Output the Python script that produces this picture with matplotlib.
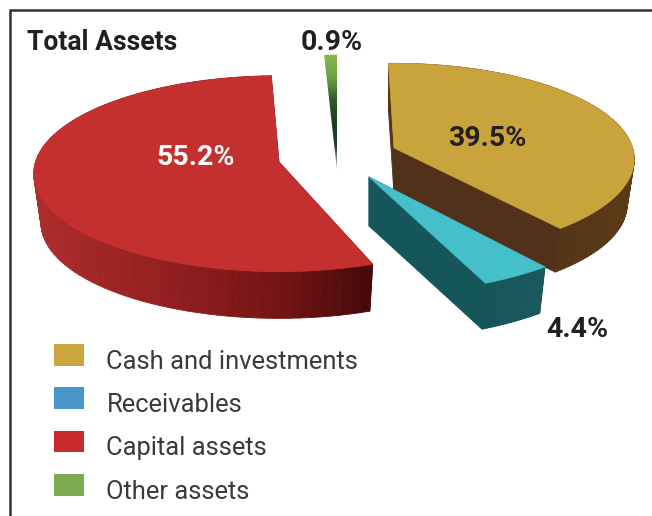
import numpy as np
import matplotlib
matplotlib.use('Agg')
import matplotlib.pyplot as plt
from matplotlib.collections import PolyCollection
from matplotlib.colors import LinearSegmentedColormap
from matplotlib.patches import Patch, Polygon

categories = ['Cash and investments', 'Receivables', 'Capital assets', 'Other assets']
shares = [39.5, 4.4, 55.2, 0.9]
share_labels = ['39.5%', '4.4%', '55.2%', '0.9%']
legend_colors = ['#cca63e', '#4a96c8', '#c62a2a', '#7dab52']

plt.rcParams['font.family'] = ['Roboto', 'DejaVu Sans']

# exploded position, size and look of each slice (drawing units are pixels)
apex_x = [394, 369, 279, 337]
apex_y = [148, 177, 162, 170]
scale = [0.97, 1.05, 0.99, 1.38]
depth = [46, 49, 50, 0]
# small angle nudges (degrees) at each end of a slice, the source is not a true pie
nudge_a = [1.5, 0, -2, -0.7]
nudge_b = [1.5, 1.5, -1.2, 0]
face_colors = ['#c9a33c', '#45bfc9', '#c42f2f', '#7fb24a']
wall_cmaps = [
    LinearSegmentedColormap.from_list('gold', ['#55341a', '#50301a', '#5b3a16']),
    LinearSegmentedColormap.from_list('teal', ['#14565a', '#16565a', '#1a5a5e']),
    LinearSegmentedColormap.from_list('red', ['#ad2c2c', '#9c2424', '#8a1c1c', '#721414', '#470a0a']),
    LinearSegmentedColormap.from_list('green', ['#1d3a1d', '#1d3a1d']),
]

RX = 246
RY = 97.5
PERSP = 0.121
SHRINK = 0.97


def project(angle, r):
    u = np.cos(angle) * r
    v = np.sin(angle) * r
    w = 1 + PERSP * v
    return RX * u / w, -RY * v / w


fig = plt.figure(figsize=(6.52, 5.16), dpi=100)
ax = fig.add_axes([0, 0, 1, 1])
ax.set_xlim(0, 652)
ax.set_ylim(516, 0)
ax.axis('off')

# frame, open on the right
ax.plot([9.5, 9.5, 652], [516, 9.5, 9.5], color='#333333', lw=1.8, solid_joinstyle='miter')

edges = 90 - np.cumsum([0] + shares) * 3.6
order = [2, 3, 0, 1]
for i in order:
    a0 = np.radians(edges[i] + nudge_a[i])
    a1 = np.radians(edges[i + 1] + nudge_b[i])
    t = np.linspace(a0, a1, 90)
    px, py = project(t, scale[i])
    x = apex_x[i] + px
    y = apex_y[i] + py
    top = np.column_stack([np.r_[apex_x[i], x], np.r_[apex_y[i], y]])

    if depth[i] > 0:
        low = top.copy()
        low[:, 0] = apex_x[i] + (top[:, 0] - apex_x[i]) * SHRINK
        low[:, 1] = apex_y[i] + (top[:, 1] - apex_y[i]) * SHRINK + depth[i]
        quads = []
        mids = []
        for k in range(len(top)):
            n = (k + 1) % len(top)
            quads.append([top[k], top[n], low[n], low[k]])
            mids.append((top[k, 0] + top[n, 0]) / 2)
        mids = np.array(mids)
        shade = (mids - mids.min()) / (mids.max() - mids.min())
        cols = wall_cmaps[i](shade)
        ax.add_collection(PolyCollection(quads, facecolors=cols, edgecolors=cols, linewidths=0.6, zorder=2 + order.index(i)))
        ax.add_patch(Polygon(top, closed=True, fc=face_colors[i], ec=face_colors[i], lw=0.5, zorder=2.5 + order.index(i)))
    else:
        # the thin slice fades into its dark side wall
        green = LinearSegmentedColormap.from_list('g', ['#86bb4c', '#6f9f42', '#2e5a2a', '#1c3d20', '#24402a', '#c8d2c8'])
        grad = np.linspace(0, 1, 200).reshape(-1, 1)
        im = ax.imshow(grad, cmap=green, aspect='auto', zorder=2 + order.index(i),
                       extent=[top[:, 0].min(), top[:, 0].max(), top[:, 1].max(), top[:, 1].min()])
        clip = Polygon(top, closed=True, transform=ax.transData)
        im.set_clip_path(clip)
        ax.set_xlim(0, 652)
        ax.set_ylim(516, 0)

ax.text(27, 50, 'Total Assets', fontsize=19.1, fontweight='bold', color='#231f20', va='baseline', zorder=9)
ax.text(332, 42, share_labels[3], fontsize=20.5, fontweight='bold', color='#231f20', ha='center', va='center', zorder=9)
ax.text(487, 138, share_labels[0], fontsize=20.5, fontweight='bold', color='#231f20', ha='center', va='center', zorder=9)
ax.text(196, 157.5, share_labels[2], fontsize=20.5, fontweight='bold', color='white', ha='center', va='center', zorder=9)
ax.text(577, 329.5, share_labels[1], fontsize=20.5, fontweight='bold', color='#231f20', ha='center', va='center', zorder=9)

handles = [Patch(fc=c, ec='none') for c in legend_colors]
leg = ax.legend(handles, categories, loc='upper left', bbox_to_anchor=(54, 344), bbox_transform=ax.transData,
                frameon=False, borderpad=0, borderaxespad=0, handlelength=1.16, handleheight=0.93,
                handletextpad=0.89, labelspacing=0.73, prop={'family': 'Roboto', 'weight': 'normal', 'size': 18.4},
                labelcolor='#3a3a3a')
# labels sit a little lower than the squares
for t in leg.get_texts():
    t.set_position((0, -5))

fig.savefig('out.png', dpi=100)
